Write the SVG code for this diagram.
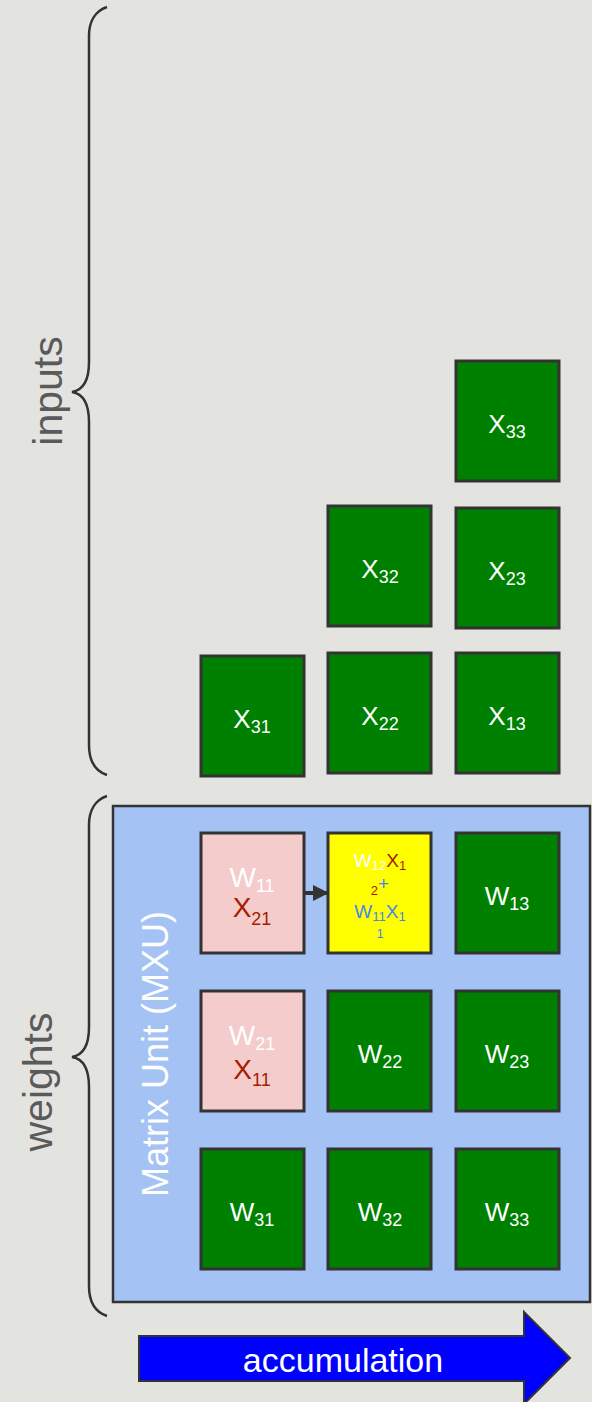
<svg xmlns="http://www.w3.org/2000/svg" width="592" height="1402" viewBox="0 0 592 1402">
<style>
.cell{stroke:#333;stroke-width:3}
.g{fill:#008000}
.p{fill:#f4cccc}
.y{fill:#ffff00}
.t{font-family:"Liberation Sans",Arial,sans-serif}
.gt{font-size:26px;fill:#fff;text-anchor:middle}
.sub{font-size:18px}
.brace{fill:none;stroke:#333;stroke-width:2.5}
.lbl{font-size:41px;fill:#5a5a5a;text-anchor:middle}
</style>
<defs>
<marker id="ah" markerWidth="4" markerHeight="4" refX="3.5" refY="2" orient="auto" markerUnits="strokeWidth">
<path d="M0,0 L4,2 L0,4 z" fill="#333"/>
</marker>
</defs>
<rect x="0" y="0" width="592" height="1402" fill="#e3e3df"/>
<g id="brace-inputs"><path class="brace" d="M107,7 C95,11 89,22 89,36 L89,362 C89,380 84,390 72,392 C84,394 89,404 89,422 L89,745 C89,760 95,771 107,775"/></g>
<g id="brace-weights"><path class="brace" d="M107,796 C95,800 89,811 89,825 L89,1027 C89,1045 84,1055 72,1057 C84,1059 89,1069 89,1087 L89,1286 C89,1301 95,1312 107,1316"/></g>
<g id="label-inputs"><text class="t lbl" transform="translate(62,391) rotate(-90)">inputs</text></g>
<g id="label-weights"><text class="t lbl" transform="translate(52,1082) rotate(-90)">weights</text></g>
<g id="mxu">
<rect x="113" y="806" width="477" height="496" fill="#a4c2f4" stroke="#333" stroke-width="2.5"/>
<text class="t" transform="translate(168,1054) rotate(-90)" font-size="36" fill="#fff" text-anchor="middle">Matrix Unit (MXU)</text>
</g>
<g id="X33"><rect class="cell g" x="456" y="361" width="103" height="120"/><text class="t gt" x="507" y="433">X<tspan class="sub" dy="5">33</tspan></text></g>
<g id="X32"><rect class="cell g" x="328" y="506" width="103" height="120"/><text class="t gt" x="380" y="578">X<tspan class="sub" dy="5">32</tspan></text></g>
<g id="X23"><rect class="cell g" x="456" y="508" width="103" height="120"/><text class="t gt" x="507" y="580">X<tspan class="sub" dy="5">23</tspan></text></g>
<g id="X31"><rect class="cell g" x="201" y="656" width="103" height="120"/><text class="t gt" x="252" y="728">X<tspan class="sub" dy="5">31</tspan></text></g>
<g id="X22"><rect class="cell g" x="328" y="653" width="103" height="120"/><text class="t gt" x="380" y="725">X<tspan class="sub" dy="5">22</tspan></text></g>
<g id="X13"><rect class="cell g" x="456" y="653" width="103" height="120"/><text class="t gt" x="507" y="725">X<tspan class="sub" dy="5">13</tspan></text></g>
<g id="W11"><rect class="cell p" x="201" y="833" width="103" height="120"/>
<text class="t" x="252" y="887" font-size="28" fill="#fff" text-anchor="middle">W<tspan font-size="18" dy="5">11</tspan></text>
<text class="t" x="252" y="917" font-size="28" fill="#a61c00" text-anchor="middle">X<tspan font-size="18" dy="8">21</tspan></text></g>
<g id="W12"><rect class="cell y" x="328" y="833" width="103" height="120"/>
<text class="t" x="380" y="867" font-size="19" text-anchor="middle"><tspan fill="#fff">W</tspan><tspan fill="#fff" font-size="13" dy="3">12</tspan><tspan fill="#a61c00" dy="-3">X</tspan><tspan fill="#a61c00" font-size="13" dy="3">1</tspan></text>
<text class="t" x="380" y="890" font-size="19" text-anchor="middle"><tspan fill="#a61c00" font-size="13" dy="5">2</tspan><tspan fill="#4a86e8" dy="-5">+</tspan></text>
<text class="t" x="380" y="918" font-size="19" fill="#4a86e8" text-anchor="middle">W<tspan font-size="13" dy="3">11</tspan><tspan dy="-3">X</tspan><tspan font-size="13" dy="3">1</tspan></text>
<text class="t" x="380" y="938" font-size="13" fill="#4a86e8" text-anchor="middle">1</text></g>
<g id="W13"><rect class="cell g" x="456" y="833" width="103" height="120"/><text class="t gt" x="507" y="905">W<tspan class="sub" dy="5">13</tspan></text></g>
<g id="W21"><rect class="cell p" x="201" y="991" width="103" height="120"/>
<text class="t" x="252" y="1045" font-size="28" fill="#fff" text-anchor="middle">W<tspan font-size="18" dy="5">21</tspan></text>
<text class="t" x="252" y="1079" font-size="28" fill="#a61c00" text-anchor="middle">X<tspan font-size="18" dy="7">11</tspan></text></g>
<g id="W22"><rect class="cell g" x="328" y="991" width="103" height="120"/><text class="t gt" x="380" y="1063">W<tspan class="sub" dy="5">22</tspan></text></g>
<g id="W23"><rect class="cell g" x="456" y="991" width="103" height="120"/><text class="t gt" x="507" y="1063">W<tspan class="sub" dy="5">23</tspan></text></g>
<g id="W31"><rect class="cell g" x="201" y="1149" width="103" height="120"/><text class="t gt" x="252" y="1221">W<tspan class="sub" dy="5">31</tspan></text></g>
<g id="W32"><rect class="cell g" x="328" y="1149" width="103" height="120"/><text class="t gt" x="380" y="1221">W<tspan class="sub" dy="5">32</tspan></text></g>
<g id="W33"><rect class="cell g" x="456" y="1149" width="103" height="120"/><text class="t gt" x="507" y="1221">W<tspan class="sub" dy="5">33</tspan></text></g>
<g id="connectors">
<line x1="305" y1="893" x2="327" y2="893" stroke="#333" stroke-width="4" marker-end="url(#ah)"/>
</g>
<g id="accumulation">
<polygon points="139,1336 524,1336 524,1312 570,1358 524,1404 524,1381 139,1381" fill="#0000ff" stroke="#333" stroke-width="2"/>
<text class="t" x="343" y="1372" font-size="34" fill="#fff" text-anchor="middle">accumulation</text>
</g>
</svg>
